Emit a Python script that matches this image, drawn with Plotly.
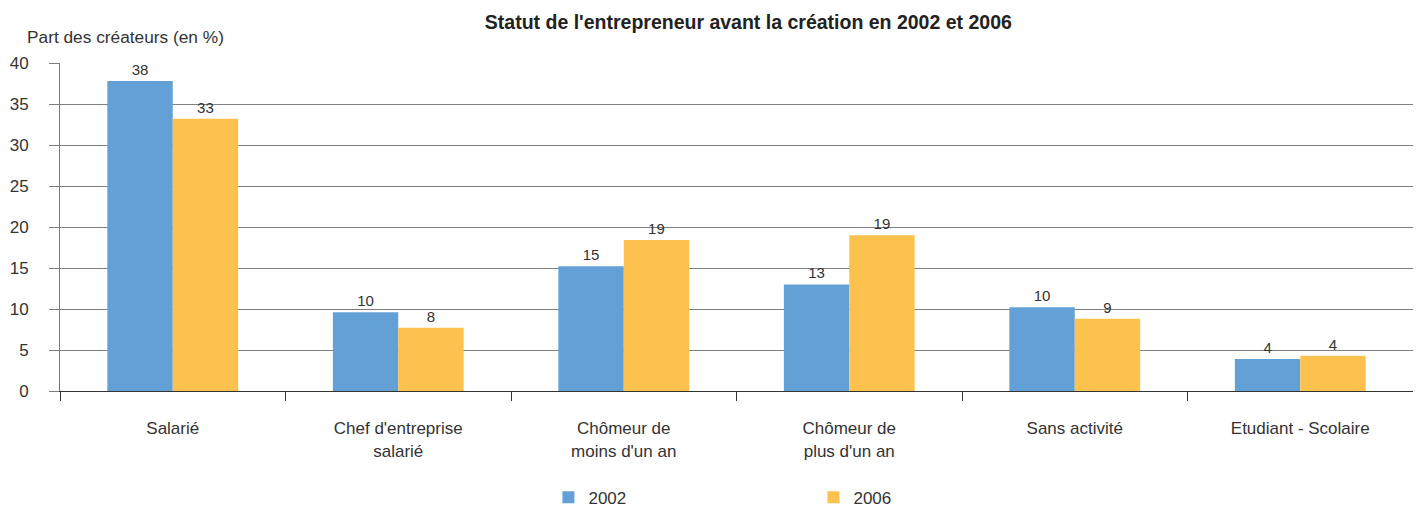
import plotly.graph_objects as go

categories = ["Salarié", "Chef d'entreprise<br>salarié", "Chômeur de<br>moins d'un an",
              "Chômeur de<br>plus d'un an", "Sans activité", "Etudiant - Scolaire"]
values_2002 = [37.8, 9.6, 15.2, 13.0, 10.2, 3.9]
values_2006 = [33.2, 7.7, 18.4, 19.0, 8.8, 4.3]
labels_2002 = ["38", "10", "15", "13", "10", "4"]
labels_2006 = ["33", "8", "19", "19", "9", "4"]

font = "Liberation Sans, Arial, sans-serif"

fig = go.Figure()

fig.add_trace(go.Bar(
    x=categories, y=values_2002, name="2002",
    marker=dict(color="#62a0d6", line=dict(width=0)),
    text=labels_2002, textposition="outside", cliponaxis=False,
    textfont=dict(size=15, color="#333333")
))
fig.add_trace(go.Bar(
    x=categories, y=values_2006, name="2006",
    marker=dict(color="#fdc24d", line=dict(width=0)),
    text=labels_2006, textposition="outside", cliponaxis=False,
    textfont=dict(size=15, color="#333333")
))

# the page body adds an 8px offset, so margins are shifted accordingly
fig.update_layout(
    width=1421, height=506,
    margin=dict(l=52, r=16, t=55, b=123, autoexpand=False),
    plot_bgcolor="white", paper_bgcolor="white",
    font=dict(family=font, size=17, color="#333333"),
    barmode="group", bargap=0.42, bargroupgap=0,
    title=dict(text="<b>Statut de l'entrepreneur avant la création en 2002 et 2006</b>",
               x=0.521, xanchor="center", y=0.972, yanchor="middle",
               font=dict(size=19.5, color="#222222")),
    showlegend=True,
    legend=dict(orientation="h", x=0.361, xanchor="left", y=-0.325, yanchor="middle",
                entrywidth=220, entrywidthmode="pixels",
                font=dict(size=17), itemsizing="constant"),
)

fig.update_xaxes(
    showline=True, linecolor="#333333", linewidth=1,
    ticks="outside", tickson="boundaries", ticklen=9, tickcolor="#333333",
    ticklabelstandoff=22,
    tickfont=dict(size=17), showgrid=False, automargin=False,
)
fig.update_yaxes(
    range=[0, 40], dtick=5, showgrid=True, gridcolor="#808080", gridwidth=1,
    showline=True, linecolor="#777777", linewidth=1,
    ticks="outside", ticklen=10, tickcolor="#808080", ticklabelstandoff=17,
    tickfont=dict(size=17),
    zeroline=False, automargin=False,
)

fig.add_annotation(
    text="Part des créateurs (en %)", xref="paper", yref="paper",
    x=-0.026, y=1.0, yshift=26, xanchor="left", yanchor="middle",
    showarrow=False, font=dict(size=17.3, color="#333333")
)

fig.write_html("out.html")
